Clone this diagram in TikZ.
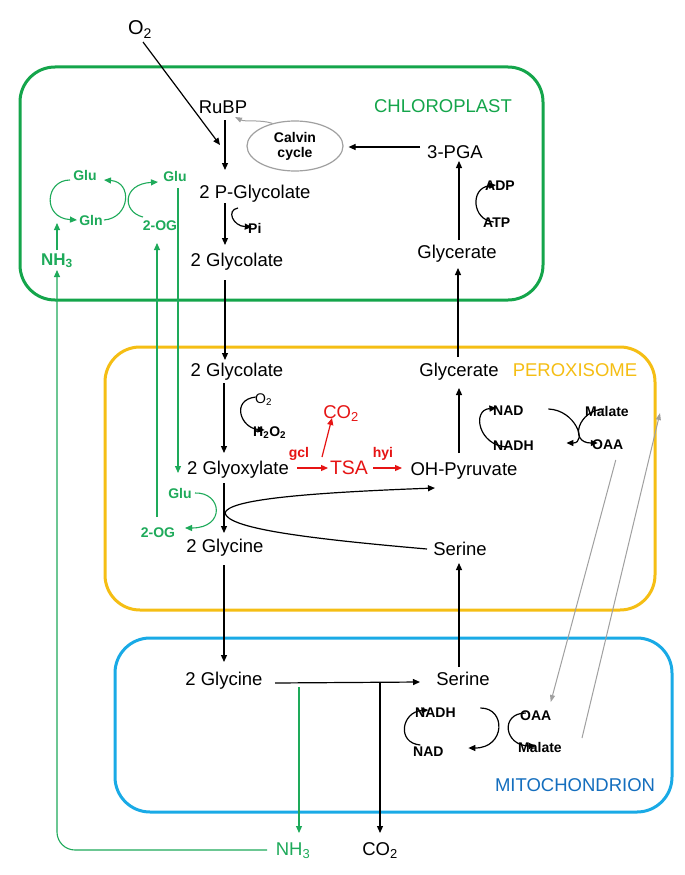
\documentclass[tikz,border=0pt]{standalone}
\usepackage{fontspec}
\setmainfont{Liberation Sans}
\usetikzlibrary{arrows.meta,shapes.geometric,calc}
\definecolor{chlgreen}{RGB}{20,165,75}
\definecolor{glugreen}{RGB}{30,170,90}
\definecolor{peroxy}{RGB}{245,190,20}
\definecolor{mitob}{RGB}{25,170,230}
\definecolor{mitotext}{RGB}{20,110,190}
\definecolor{redc}{RGB}{230,20,20}
\definecolor{grayc}{RGB}{160,160,160}
\newcommand\figbig{\fontsize{18.5}{20}\selectfont}
\newcommand\figsm{\fontsize{14}{15}\selectfont\bfseries}
\newcommand\figsmr{\fontsize{14}{15}\selectfont}
\begin{document}
\begin{tikzpicture}[x=1pt,y=-1pt,
  lbl/.style={anchor=base, inner sep=0pt, font=\figbig},
  sm/.style={anchor=base west, inner sep=0pt, font=\figsm},
  gsm/.style={anchor=base, inner sep=0pt, font=\figsm, text=glugreen},
  rsm/.style={anchor=base, inner sep=0pt, font=\figsm, text=redc},
  arr/.style={line width=1.2pt, -{Triangle[length=7pt,width=6pt]}},
  garr/.style={line width=1.1pt, draw=glugreen, -{Triangle[length=7pt,width=6pt]}},
  rarr/.style={line width=1.2pt, draw=redc, -{Triangle[length=7pt,width=6pt]}},
  grarr/.style={line width=1pt, draw=grayc, -{Triangle[length=7pt,width=5pt]}},
  compart/.style={line width=3pt, rounded corners=35pt}]
\fill[white] (0,0) rectangle (685,875);
\useasboundingbox (0,0) rectangle (685,875);

% compartments
\draw[compart, draw=chlgreen] (20,67) rectangle (543,300);
\draw[compart, draw=peroxy] (105,347) rectangle (655,610);
\draw[compart, draw=mitob] (115,638) rectangle (672,812);

% chloroplast nodes
\node[lbl, font=\fontsize{20}{22}\selectfont] (o2top) at (140,35) {O\textsubscript{2}};
\node[lbl] (rubp) at (223,113) {RuBP};
\node[ellipse, draw=grayc, line width=1.2pt, minimum width=96pt, minimum height=50pt,
      inner sep=0pt, align=center, font=\figsm] (calvin) at (295,146) {Calvin\\cycle};
\node[lbl] (pglyc) at (255,198) {2 P-Glycolate};
\node[sm] (pi) at (248,233) {Pi};
\node[lbl] (glyc1) at (237,266) {2 Glycolate};
\node[lbl] (pga) at (455,158) {3-PGA};
\node[sm] (adp) at (485,190) {ADP};
\node[sm] (atp) at (483,227) {ATP};
\node[lbl] (glyr1) at (457,258) {Glycerate};
\node[lbl, text=chlgreen] (chl) at (443,112) {CHLOROPLAST};
\node[gsm] (glu1) at (85,180) {Glu};
\node[gsm] (glu2) at (175,181) {Glu};
\node[gsm] (gln) at (91,225) {Gln};
\node[gsm] (og1) at (160,230) {2-OG};
\node[lbl, text=glugreen, font=\fontsize{17}{19}\selectfont\bfseries] (nh3a) at (57,265) {NH\textsubscript{3}};

% peroxisome nodes
\node[lbl] (glyc2) at (237,376) {2 Glycolate};
\node[anchor=base west, inner sep=0pt, font=\figsmr] (o2s) at (255,403) {O\textsubscript{2}};
\node[sm] (h2o2) at (253,436) {H\textsubscript{2}O\textsubscript{2}};
\node[lbl, text=redc] (co2r) at (341,418) {CO\textsubscript{2}};
\node[rsm] (gcl) at (299,457) {gcl};
\node[rsm] (hyi) at (383,457) {hyi};
\node[lbl] (glyox) at (238,474) {2 Glyoxylate};
\node[lbl, text=redc, font=\fontsize{19.5}{21}\selectfont] (tsa) at (349,474) {TSA};
\node[lbl] (ohpyr) at (464,475) {OH-Pyruvate};
\node[gsm] (glu3) at (180,498) {Glu};
\node[gsm] (og2) at (158,537) {2-OG};
\node[lbl] (glyn1) at (225,552) {2 Glycine};
\node[lbl] (ser1) at (460,555) {Serine};
\node[lbl] (glyr2) at (459,376) {Glycerate};
\node[lbl, text=peroxy] (perox) at (575,376) {PEROXISOME};
\node[sm] (nad1) at (493,415) {NAD};
\node[sm] (nadh1) at (493,450) {NADH};
\node[sm] (mal1) at (585,416) {Malate};
\node[sm] (oaa1) at (592,449) {OAA};

% mitochondrion nodes
\node[lbl] (glyn2) at (224,685) {2 Glycine};
\node[lbl] (ser2) at (463,685) {Serine};
\node[sm] (nadh2) at (415,717) {NADH};
\node[sm] (nad2) at (413,756) {NAD};
\node[sm] (oaa2) at (520,720) {OAA};
\node[sm] (mal2) at (518,752) {Malate};
\node[lbl, text=mitotext] (mito) at (575,791) {MITOCHONDRION};
\node[lbl, text=glugreen] (nh3b) at (293,855) {NH\textsubscript{3}};
\node[lbl] (co2b) at (380,855) {CO\textsubscript{2}};

% ---- black connectors ----
\draw[arr] ($(o2top.base)+(3,7)$) -- ($(rubp.base)+(-3,32)$);
\draw[arr] ($(rubp.base)+(2,7)$) -- ($(pglyc.base)+(-30,-28)$);
\draw[grarr] (calvin.135) .. controls +(-12,-4) and +(10,5) .. ($(rubp.base)+(12,4)$);
\draw[arr] ($(pga.base)+(-35,-11)$) -- ($(calvin.east)+(5,1)$);
\draw[arr] ($(glyr1.base)+(2,-18)$) -- ($(pga.base)+(4,3)$);
\draw[arr] ($(atp.base)+(-3,-5)$) .. controls +(-22,-2) and +(-26,3) .. ($(adp.base)+(-4,-5)$);
\draw[arr] ($(pglyc.base)+(-30,5)$) -- ($(glyc1.base)+(-12,-21)$);
\draw[arr] ($(pglyc.base)+(-17,10)$) .. controls +(-12,2) and +(-19,-1) .. ($(pi.base)+(-3,-6)$);
\draw[arr] ($(glyc1.base)+(-12,14)$) -- ($(glyc2.base)+(-12,-16)$);
\draw[arr] ($(glyc2.base)+(-13,7)$) -- ($(glyox.base)+(-14,-21)$);
\draw[arr] ($(o2s.base)+(-8,-6)$) .. controls +(-25,3) and +(-24,-2) .. ($(h2o2.base)+(-5,-6)$);
\draw[arr] ($(glyox.base)+(-14,9)$) -- ($(glyn1.base)+(-1,-19)$);
\draw[arr] ($(ser1.base)+(-33,-6)$) .. controls +(-127,-11) and +(3,15) .. ($(glyn1.base)+(0,-39)$)
  .. controls +(3,-13) and +(-135,5) .. ($(ohpyr.base)+(-29,13)$);
\draw[arr] ($(glyr2.base)+(-1,-19)$) -- ($(glyr1.base)+(1,10)$);
\draw[arr] ($(ohpyr.base)+(-5,-22)$) -- ($(glyr2.base)+(0,12)$);
\draw[arr] ($(nadh1.base)+(-6,-3)$) .. controls +(-29,-1) and +(-25,2) .. ($(nad1.base)+(-12,-7)$);
\draw[arr] ($(nad1.base)+(40,-6)$) .. controls +(27,1) and +(21,0) .. ($(nadh1.base)+(53,-7)$);
\draw[arr] ($(mal1.base)+(-3,-7)$) .. controls +(-26,1) and +(-29,0) .. ($(oaa1.base)+(-10,-6)$);
\draw[arr] ($(ser2.base)+(-4,-18)$) -- ($(ser1.base)+(-1,8)$);
\draw[arr] ($(glyn1.base)+(-1,13)$) -- ($(glyn2.base)+(0,-23)$);
\draw[arr] ($(glyn2.base)+(51,-2)$) -- ($(ser2.base)+(-43,-3)$);
\draw[arr] ($(glyn2.base)+(156,-2)$) -- ($(co2b.base)+(0,-22)$);
\draw[arr] ($(nad2.base)+(-8,-11)$) .. controls +(-24,-2) and +(-27,2) .. ($(nadh2.base)+(-7,-7)$);
\draw[arr] ($(nadh2.base)+(45,-9)$) .. controls +(26,0) and +(37,0) .. ($(nad2.base)+(40,-8)$);
\draw[arr] ($(oaa2.base)+(-10,-7)$) .. controls +(-26,0) and +(-32,0) .. ($(mal2.base)+(-4,-6)$);

% ---- red connectors ----
\draw[rarr] ($(glyox.base)+(59,-6)$) -- ($(tsa.base)+(-21,-6)$);
\draw[rarr] ($(tsa.base)+(-27,-17)$) -- ($(co2r.base)+(-9,0)$);
\draw[rarr] ($(tsa.base)+(24,-6)$) -- ($(ohpyr.base)+(-62,-7)$);

% ---- gray shuttle ----
\draw[grarr] ($(oaa1.base)+(8,11)$) -- ($(oaa2.base)+(15,-18)$);
\draw[grarr] ($(mal2.base)+(42,-14)$) -- ($(mal1.base)+(53,-3)$);

% ---- green connectors ----
\draw[garr] ($(glu2.base)+(3,7)$) -- ($(glyox.base)+(-60,-1)$);
\draw[garr] ($(glu3.base)+(15,-5)$) .. controls +(27,-1) and +(41,0) .. ($(og2.base)+(27,-9)$);
\draw[garr] ($(og2.base)+(-1,-20)$) -- ($(og1.base)+(-3,13)$);
\draw[garr] ($(glyn2.base)+(75,2)$) -- ($(nh3b.base)+(6,-22)$);
\draw[garr, rounded corners=18pt] ($(nh3b.base)+(-26,-5)$) -| ($(nh3a.base)+(0,5)$);
\draw[garr] ($(nh3a.base)+(0,-15)$) -- ($(nh3a.base)+(0,-42)$);
\draw[garr] ($(glu1.base)+(-15,0)$) .. controls +(-25,0) and +(-35,-2) .. ($(gln.base)+(-14,-5)$);
\draw[garr] ($(gln.base)+(13,-5)$) .. controls +(26,-2) and +(29,2) .. ($(glu1.base)+(19,0)$);
\draw[garr] ($(og1.base)+(-17,-13)$) .. controls +(-21,-5) and +(-36,2) .. ($(glu2.base)+(-17,1)$);
\end{tikzpicture}
\end{document}
